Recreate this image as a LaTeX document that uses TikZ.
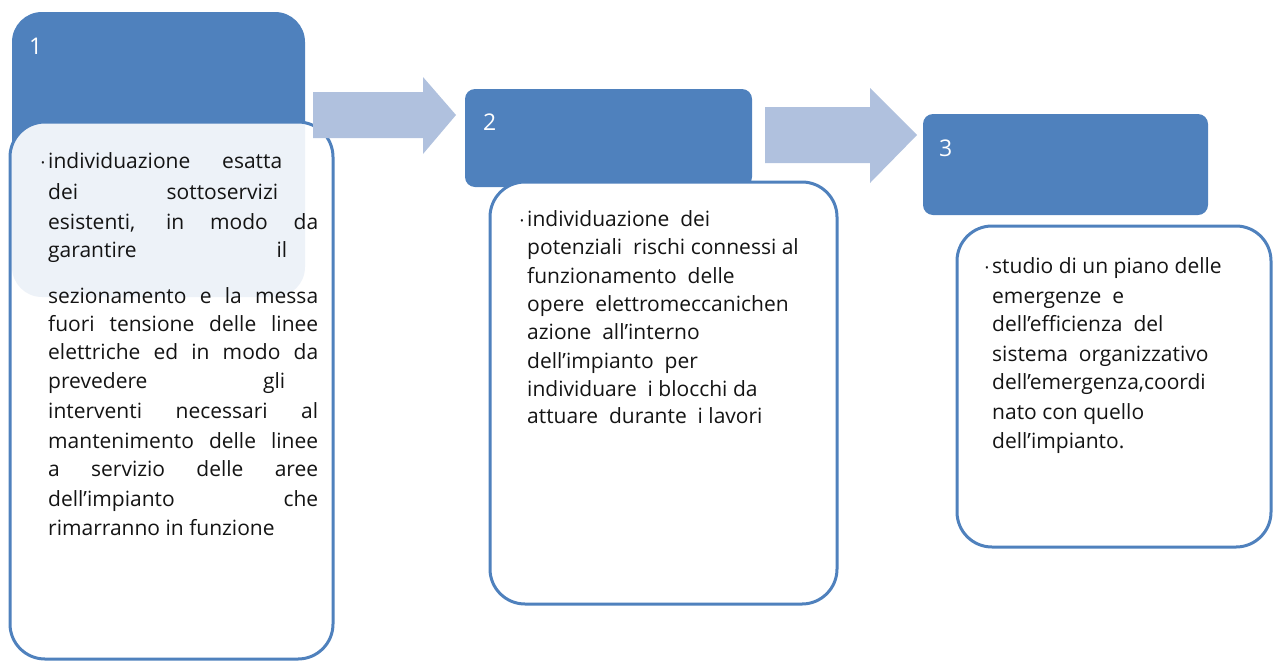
\documentclass[tikz,border=0pt]{standalone}
\usepackage{fontspec}
\setmainfont{Open Sans}
\definecolor{hdr}{RGB}{79,129,189}
\definecolor{arr}{RGB}{176,193,222}
\definecolor{txt}{RGB}{20,20,20}
\begin{document}
\begin{tikzpicture}[x=1pt,y=-1pt,
  hdrbox/.style={fill=hdr,draw=none,inner sep=0pt},
  bodybox/.style={draw=hdr,line width=3pt,inner sep=0pt},
  blockarrow/.style={fill=arr,draw=none},
  num/.style={text=white,font=\fontsize{23}{26}\selectfont,anchor=base west,inner sep=0pt},
  t/.style={text=txt,font=\fontsize{21}{24}\selectfont,anchor=base west,inner sep=0pt},
  bul/.style={text=txt,font=\fontsize{10}{11}\selectfont,anchor=base east,inner sep=0pt}]
\useasboundingbox (0,0) rectangle (1274,662);
% step 1
\node[hdrbox,rounded corners=30pt,minimum width=293pt,minimum height=285pt] (h1) at (158.5,154.5) {};
\node[bodybox,rounded corners=35pt,fill=white,fill opacity=0.9,minimum width=323pt,minimum height=537pt] (b1) at (171.5,390.5) {};
\fill[blockarrow] (313,92) -- (423,92) -- (423,77) -- (456,115) -- (423,154) -- (423,138) -- (313,138) -- cycle;
\node[num] (n1) at (29,54) {1};
\node[bul] (u1) at (45,166) {•};
\node[t] (a1) at (48,168) {\makebox[234pt][s]{individuazione esatta}};
\node[t] (a2) at (48,199) {\makebox[230pt][s]{dei sottoservizi}};
\node[t] (a3) at (48,229) {\makebox[270pt][s]{esistenti, in modo da}};
\node[t] (a4) at (48,257) {\makebox[239pt][s]{garantire il}};
\node[t] (a5) at (48,303) {\makebox[270pt][s]{sezionamento e la messa}};
\node[t] (a6) at (48,331) {\makebox[270pt][s]{fuori tensione delle linee}};
\node[t] (a7) at (48,359) {\makebox[270pt][s]{elettriche ed in modo da}};
\node[t] (a8) at (48,388) {\makebox[237pt][s]{prevedere gli}};
\node[t] (a9) at (48,418) {\makebox[270pt][s]{interventi necessari al}};
\node[t] (a10) at (48,448) {\makebox[270pt][s]{mantenimento delle linee}};
\node[t] (a11) at (48,476) {\makebox[270pt][s]{a servizio delle aree}};
\node[t] (a12) at (48,506) {\makebox[270pt][s]{dell’impianto che}};
\node[t] (a13) at (48,535) {rimarranno in funzione};
% step 2
\node[hdrbox,rounded corners=10pt,minimum width=287pt,minimum height=98pt] (h2) at (608.5,138) {};
\node[bodybox,rounded corners=35pt,fill=white,minimum width=347pt,minimum height=422pt] (b2) at (663.5,393) {};
\fill[blockarrow] (765,107) -- (870,107) -- (870,88) -- (917,135) -- (870,183) -- (870,163) -- (765,163) -- cycle;
\node[num] (n2) at (483,130) {2};
\node[bul] (u2) at (524,224) {•};
\node[t] (c1) at (527,226) {individuazione\ \ dei};
\node[t] (c2) at (527,254) {potenziali\ \ rischi connessi al};
\node[t] (c3) at (527,283) {funzionamento\ \ delle};
\node[t] (c4) at (527,311) {opere\ \ elettromeccanichen};
\node[t] (c5) at (527,339) {azione\ \ all’interno};
\node[t] (c6) at (527,368) {dell’impianto\ \ per};
\node[t] (c7) at (527,396) {individuare\ \ i blocchi da};
\node[t] (c8) at (527,423) {attuare\ \ durante\ \ i lavori};
% step 3
\node[hdrbox,rounded corners=10pt,minimum width=285pt,minimum height=101pt] (h3) at (1065.5,164.5) {};
\node[bodybox,rounded corners=35pt,fill=white,minimum width=314pt,minimum height=321pt] (b3) at (1114,386.5) {};
\node[num] (n3) at (939,156) {3};
\node[bul] (u3) at (989,271) {•};
\node[t] (d1) at (992,273) {studio\ di un piano delle};
\node[t] (d2) at (992,303) {emergenze\ \ e};
\node[t] (d3) at (992,331) {dell’efficienza\ \ del};
\node[t] (d4) at (992,361) {sistema\ \ organizzativo};
\node[t] (d5) at (992,389) {dell’emergenza,coordi};
\node[t] (d6) at (992,419) {nato con quello};
\node[t] (d7) at (992,448) {dell’impianto.};
\end{tikzpicture}
\end{document}
